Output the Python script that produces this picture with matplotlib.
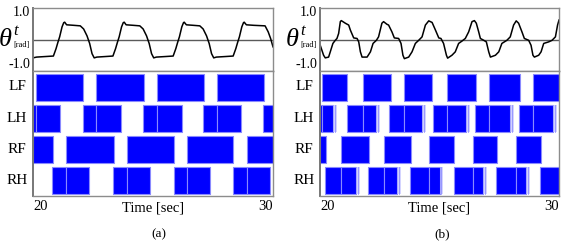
import matplotlib
matplotlib.use('Agg')
import matplotlib.pyplot as plt

W, H = 568, 242

# ---- data (time in sec, angle in rad) ----
legs = ['LF', 'LH', 'RF', 'RH']

# panel (a): trunk angle
ta = [20.00, 20.15, 20.50, 20.85, 20.96, 21.04, 21.11, 21.21, 21.28, 21.32, 21.40, 21.70,
      21.97, 22.11, 22.25, 22.36, 22.46, 22.55, 22.66, 23.00, 23.33,
      23.44, 23.52, 23.59, 23.69, 23.76, 23.80, 23.88, 24.18, 24.45, 24.59, 24.73, 24.84,
      24.94, 25.03, 25.14, 25.50, 25.84,
      25.95, 26.03, 26.10, 26.20, 26.27, 26.30, 26.39, 26.68, 26.95, 27.09, 27.23, 27.34,
      27.44, 27.53, 27.64, 28.00, 28.34,
      28.45, 28.53, 28.60, 28.70, 28.77, 28.80, 28.89, 29.20, 29.67, 29.80, 29.90, 30.00]
tha = [-0.70, -0.67, -0.65, -0.63, -0.35, -0.10, 0.10, 0.48, 0.64, 0.66, 0.56, 0.54,
       0.52, 0.40, 0.14, -0.15, -0.54, -0.70, -0.67, -0.65, -0.63,
       -0.35, -0.10, 0.10, 0.48, 0.64, 0.66, 0.56, 0.54, 0.52, 0.40, 0.14, -0.15,
       -0.54, -0.70, -0.67, -0.65, -0.63,
       -0.35, -0.10, 0.10, 0.48, 0.64, 0.66, 0.56, 0.54, 0.52, 0.40, 0.14, -0.15,
       -0.54, -0.70, -0.67, -0.65, -0.63,
       -0.35, -0.10, 0.10, 0.48, 0.64, 0.66, 0.56, 0.54, 0.52, 0.29, 0.04, -0.28]

# panel (b): trunk angle
tb = [20.01, 20.15, 20.22, 20.36, 20.43, 20.54, 20.64, 20.71, 20.78, 20.85, 20.89, 21.06,
      21.20, 21.27, 21.41, 21.55, 21.62, 21.69, 21.76, 21.97, 22.11, 22.22, 22.36, 22.45,
      22.59, 22.66, 22.80, 22.87, 23.01, 23.11, 23.29, 23.39, 23.47, 23.53, 23.71, 23.85,
      23.99, 24.13, 24.27, 24.41, 24.55, 24.69, 24.83, 24.97, 25.06,
      25.17, 25.29, 25.34, 25.52, 25.66, 25.80, 25.94, 26.08, 26.22, 26.36, 26.46, 26.54,
      26.64, 26.71, 26.85, 26.96, 27.06, 27.13, 27.34, 27.48, 27.61, 27.82, 27.96, 28.10,
      28.21, 28.31, 28.45, 28.55, 28.73, 28.83, 28.91, 28.97, 29.15, 29.25, 29.36, 29.57,
      29.71, 29.85, 29.94, 30.00]
thb = [-0.22, -0.60, -0.70, -0.67, -0.47, -0.15, -0.03, 0.04, 0.23, 0.68, 0.72, 0.62,
       0.55, 0.36, 0.06, 0.04, -0.09, -0.47, -0.67, -0.67, -0.47, -0.15, -0.03, 0.10,
       0.62, 0.68, 0.58, 0.55, 0.29, 0.06, 0.04, -0.15, -0.60, -0.73, -0.67, -0.47,
       -0.15, -0.03, 0.10, 0.55, 0.71, 0.65, 0.36, 0.06, 0.04,
       -0.15, -0.60, -0.71, -0.60, -0.47, -0.15, -0.06, 0.04, 0.29, 0.68, 0.72, 0.62,
       0.29, 0.04, -0.03, -0.09, -0.47, -0.67, -0.60, -0.47, -0.15, -0.03, 0.10, 0.55,
       0.71, 0.62, 0.29, 0.04, -0.03, -0.22, -0.60, -0.67, -0.60, -0.47, -0.15, -0.09,
       -0.03, 0.10, 0.55, 0.74]

# stance phases (start, end); adjacent pieces share a thin seam
stance_a = {
    'LF': [(20.11, 22.07), (22.64, 24.63), (25.15, 27.11), (27.65, 29.64)],
    'LH': [(20.00, 20.12), (20.12, 21.12), (22.07, 22.64), (22.64, 23.66), (24.60, 25.15),
           (25.15, 26.20), (27.08, 27.65), (27.65, 28.67), (29.57, 30.00)],
    'RF': [(20.00, 20.82), (21.37, 23.36), (23.90, 25.88), (26.42, 28.35), (28.90, 30.00)],
    'RH': [(20.80, 21.37), (21.37, 22.35), (23.35, 23.90), (23.90, 24.88), (25.88, 26.42),
           (26.42, 27.38), (28.35, 28.90), (28.90, 29.88)],
}
stance_b = {
    'LF': [(20.10, 21.15), (21.81, 22.95), (23.51, 24.70), (25.30, 26.51), (27.08, 28.37),
           (28.90, 30.00)],
    'LH': [(20.00, 20.10), (20.10, 20.54), (21.12, 21.81), (21.81, 22.36), (22.90, 23.51),
           (23.51, 24.28), (24.72, 25.30), (25.30, 26.12), (26.49, 27.08), (27.08, 27.94),
           (28.31, 28.90), (28.90, 29.76)],
    'RF': [(20.00, 20.26), (20.86, 22.05), (22.68, 23.79), (24.58, 25.62), (26.41, 27.39),
           (28.22, 29.23)],
    'RH': [(20.22, 20.86), (20.86, 21.51), (22.01, 22.68), (22.68, 23.24), (23.78, 24.57),
           (24.57, 25.01), (25.61, 26.42), (26.42, 26.82), (27.38, 28.22), (28.22, 28.63),
           (29.21, 30.00)],
}
# faint trailing marks after lift-off, panel (b)
fringe_b = {
    'LH': [(20.54, 20.70), (22.36, 22.52), (24.28, 24.44), (26.12, 26.27), (27.94, 28.10),
           (29.76, 29.91)],
    'RH': [(21.51, 21.69), (23.24, 23.38), (25.01, 25.15), (26.82, 26.97), (28.63, 28.79)],
}

plt.rcParams['font.family'] = ['Liberation Serif', 'DejaVu Serif']

fig = plt.figure(figsize=(W / 100, H / 100), dpi=100)


def box(x0, y0, x1, y1):
    return [x0 / W, 1 - y1 / H, (x1 - x0) / W, (y1 - y0) / H]


def ftext(x, y, s, **kw):
    fig.text(x / W, 1 - y / H, s, **kw)


def style(ax):
    ax.set_xticks([])
    ax.set_yticks([])
    for k, sp in ax.spines.items():
        sp.set_color('#8c8c8c')
        sp.set_linewidth(1.0)
    ax.spines['left'].set_color('#777777')
    ax.spines['left'].set_linewidth(1.4)


def panel(x0, x1, t, th, stance, fringe, tag, tagx):
    ax1 = fig.add_axes(box(x0, 8, x1, 71))
    ax1.axhline(0, color='#5a5a5a', lw=1.0)
    ax1.plot(t, th, color='black', lw=1.1)
    ax1.set_xlim(20, 30)
    ax1.set_ylim(-1.2, 1.2)
    style(ax1)

    ax2 = fig.add_axes(box(x0, 71, x1, 196))
    for i, leg in enumerate(legs):
        yb = 3 - i + 0.05
        segs = [(a, b - a) for a, b in stance[leg]]
        ax2.broken_barh(segs, (yb, 0.87), facecolor='#0000ff', edgecolor='#8a8aff', lw=0.8)
        if leg in fringe:
            fs = [(a, b - a) for a, b in fringe[leg]]
            ax2.broken_barh(fs, (yb, 0.87), facecolor='#b8b8ff', edgecolor='none', alpha=0.6)
            for a, b in fringe[leg]:
                ax2.plot([(a + b) / 2] * 2, [yb, yb + 0.87], color='#7070ff', lw=0.6, alpha=0.7)
        ftext(x0 - 16, 87 + 31.3 * i, leg, ha='center', va='center', fontsize=11)
    ax2.set_xlim(20, 30)
    ax2.set_ylim(0, 4)
    style(ax2)

    # y labels of angle plot
    ftext(x0 - 3, 13, '1.0', ha='right', va='center', fontsize=10)
    ftext(x0 - 3, 65, '-1.0', ha='right', va='center', fontsize=10)
    ftext(x0 - 34, 40, 'θ', ha='left', va='center', fontsize=19, style='italic')
    ftext(x0 - 20, 31, 't', ha='left', va='center', fontsize=12, style='italic')
    ftext(x0 - 20, 45, '[rad]', ha='left', va='center', fontsize=6)

    # time axis
    ftext(x0, 207, '20', ha='left', va='center', fontsize=10.5)
    ftext(x1, 207, '30', ha='right', va='center', fontsize=10.5)
    ftext((x0 + x1) / 2, 208, 'Time [sec]', ha='center', va='center', fontsize=10.5)
    ftext(tagx, 234, tag, ha='center', va='center', fontsize=9.5)


panel(33, 273, ta, tha, stance_a, {}, '(a)', 159)
panel(320, 559, tb, thb, stance_b, fringe_b, '(b)', 442)

fig.savefig('out.png', dpi=100)
